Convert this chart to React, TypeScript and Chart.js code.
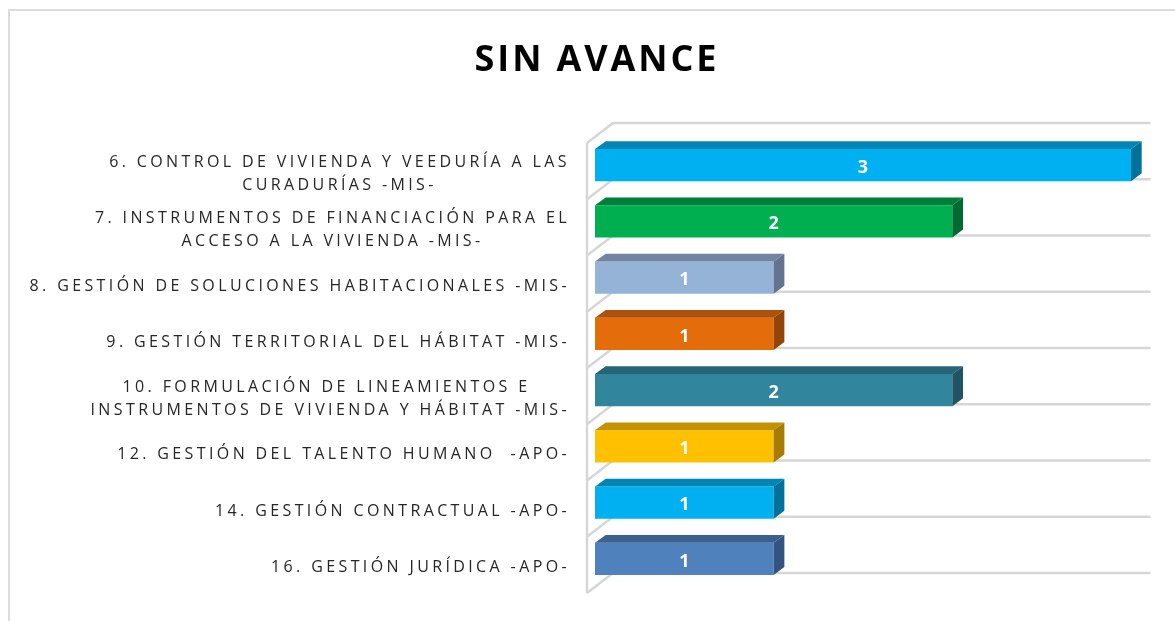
import React, { useEffect, useRef } from "react";
import { Chart, registerables } from "chart.js";

Chart.register(...registerables);

const categories: string[][] = [
  ["6. CONTROL DE VIVIENDA Y VEEDURÍA A LAS", "CURADURÍAS -MIS-"],
  ["7. INSTRUMENTOS DE FINANCIACIÓN PARA EL", "ACCESO A LA VIVIENDA -MIS-"],
  ["8. GESTIÓN DE SOLUCIONES HABITACIONALES -MIS-"],
  ["9. GESTIÓN TERRITORIAL DEL HÁBITAT -MIS-"],
  ["10. FORMULACIÓN DE LINEAMIENTOS E ", "INSTRUMENTOS DE VIVIENDA Y HÁBITAT -MIS-"],
  ["12. GESTIÓN DEL TALENTO HUMANO  -APO-"],
  ["14. GESTIÓN CONTRACTUAL -APO-"],
  ["16. GESTIÓN JURÍDICA -APO-"],
];
const sinAvance: number[] = [3, 2, 1, 1, 2, 1, 1, 1];
const frontColors = ["#00B0F0", "#00B050", "#95B3D7", "#E46C0A", "#31859C", "#FFC000", "#00B0F0", "#4F81BD"];
const topColors = ["#0085B5", "#007F3A", "#7184A1", "#AD5208", "#256576", "#C29200", "#0085B5", "#3C6190"];
const sideColors = ["#00719B", "#006B31", "#64748F", "#934507", "#1F5563", "#A67D00", "#00719B", "#335480"];
const chartTitle = "SIN AVANCE";

const GRID = "#D6D6D6";
const DX = 10.7;
const DY = 7.8;
const FONT = '"Open Sans", sans-serif';

const decor = {
  id: "decor",
  beforeDraw(chart: any) {
    const { ctx } = chart;
    ctx.save();
    ctx.strokeStyle = "#DCDCDC";
    ctx.lineWidth = 2;
    ctx.beginPath();
    ctx.moveTo(9, 621);
    ctx.lineTo(9, 10);
    ctx.lineTo(1194, 10);
    ctx.stroke();
    ctx.restore();
    ctx.letterSpacing = "2.9px";
  },
  beforeDatasetsDraw(chart: any) {
    const { ctx, chartArea, scales } = chart;
    ctx.letterSpacing = "0px";
    const y = scales.y;
    const pitch = y.getPixelForTick(1) - y.getPixelForTick(0);
    ctx.save();
    ctx.strokeStyle = GRID;
    ctx.lineWidth = 2.4;
    ctx.lineJoin = "miter";
    const wallX = chartArea.left - 8;
    const backX = chartArea.left + 18;
    const endX = chartArea.right + 19.5;
    for (let i = 0; i <= categories.length; i++) {
      const b = y.getPixelForTick(0) - pitch / 2 + i * pitch;
      ctx.beginPath();
      ctx.moveTo(wallX, b + 6);
      ctx.lineTo(backX, b - 14);
      ctx.lineTo(endX, b - 14);
      ctx.stroke();
    }
    const first = y.getPixelForTick(0) - pitch / 2;
    ctx.beginPath();
    ctx.moveTo(wallX, first + 6);
    ctx.lineTo(wallX, first + categories.length * pitch + 6);
    ctx.stroke();
    ctx.restore();
  },
  afterDatasetsDraw(chart: any) {
    const { ctx, scales } = chart;
    const meta = chart.getDatasetMeta(0);
    meta.data.forEach((bar: any, i: number) => {
      const { x, y, base, height } = bar.getProps(["x", "y", "base", "height"], true);
      const t = y - height / 2;
      const b = y + height / 2;
      ctx.save();
      ctx.fillStyle = topColors[i];
      ctx.beginPath();
      ctx.moveTo(base, t);
      ctx.lineTo(x, t);
      ctx.lineTo(x + DX, t - DY);
      ctx.lineTo(base + DX, t - DY);
      ctx.closePath();
      ctx.fill();
      ctx.fillStyle = sideColors[i];
      ctx.beginPath();
      ctx.moveTo(x, t);
      ctx.lineTo(x + DX, t - DY);
      ctx.lineTo(x + DX, b - DY);
      ctx.lineTo(x, b);
      ctx.closePath();
      ctx.fill();
      ctx.fillStyle = "#FFFFFF";
      ctx.font = `bold 18px ${FONT}`;
      ctx.textAlign = "center";
      ctx.textBaseline = "middle";
      ctx.fillText(String(sinAvance[i]), (x + base) / 2, y + 2.5);
      ctx.restore();
    });
    // category labels: each line centred in its block, block right-aligned
    const yScale = scales.y;
    ctx.save();
    ctx.font = `16px ${FONT}`;
    ctx.fillStyle = "#262626";
    ctx.letterSpacing = "3.38px";
    ctx.textBaseline = "middle";
    ctx.textAlign = "center";
    const right = 570;
    const lh = 23;
    categories.forEach((lines, i) => {
      const py = yScale.getPixelForTick(i) + 8.5;
      const w = Math.max(...lines.map((l) => ctx.measureText(l).width));
      lines.forEach((l, k) => {
        ctx.fillText(l, right - w / 2, py + (k - (lines.length - 1) / 2) * lh);
      });
    });
    ctx.restore();
  },
};

export default function App() {
  const ref = useRef<HTMLCanvasElement>(null);
  useEffect(() => {
    const chart = new Chart(ref.current!, {
      type: "bar",
      data: {
        labels: categories,
        datasets: [
          {
            label: chartTitle,
            data: sinAvance,
            backgroundColor: frontColors,
            borderWidth: 0,
            barPercentage: 0.57,
            categoryPercentage: 1,
          },
        ],
      },
      options: {
        indexAxis: "y",
        responsive: false,
        animation: false,
        layout: { padding: { left: 63, right: 63, top: 0, bottom: 34 } },
        plugins: {
          legend: { display: false },
          tooltip: { enabled: false },
          title: {
            display: true,
            text: chartTitle,
            color: "#000000",
            font: { family: FONT, size: 36, weight: "bold", lineHeight: 1.2 },
            padding: { top: 39.4, bottom: 54.4 },
          },
        },
        scales: {
          x: { display: false, min: 0, max: 3 },
          y: {
            grid: { display: false },
            border: { display: false },
            ticks: { display: false },
            afterFit: (s: any) => {
              s.width = 532;
            },
          },
        },
      },
      plugins: [decor],
    } as any);
    return () => chart.destroy();
  }, []);
  return (
    <div style={{ position: "fixed", left: 0, top: 0, width: 1175, height: 621, overflow: "hidden", background: "#fff" }}>
      <canvas ref={ref} width={1194} height={621} style={{ display: "block" }} />
    </div>
  );
}
